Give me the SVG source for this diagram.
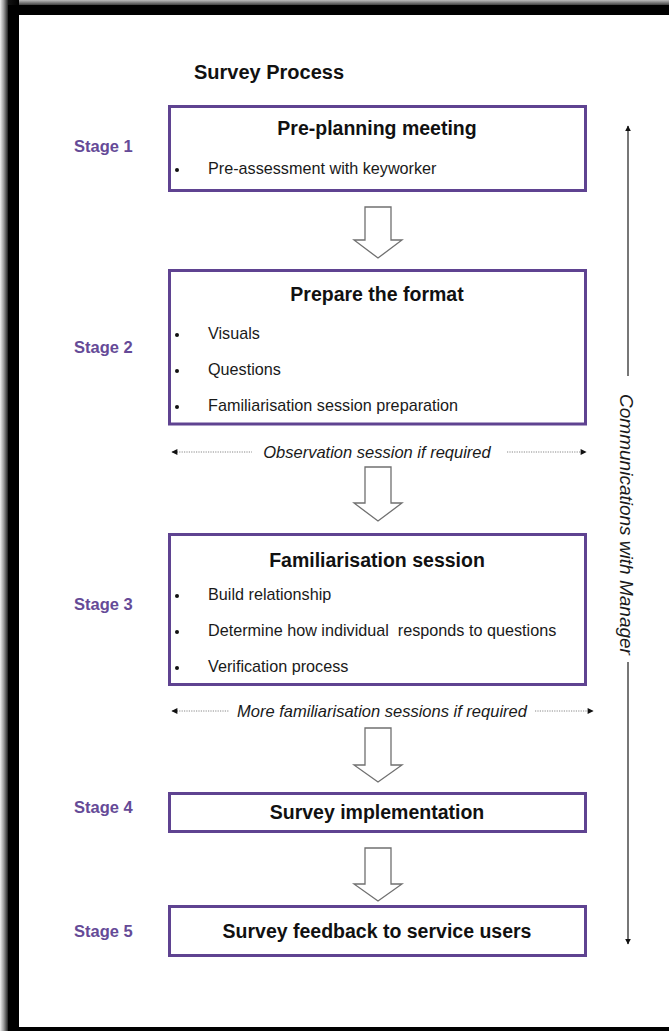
<svg xmlns="http://www.w3.org/2000/svg" width="669" height="1031" viewBox="0 0 669 1031">
<defs>
<style>
.box{fill:#fff;stroke:#5f4391;stroke-width:3}
.stage{font-family:"Liberation Sans",Arial,sans-serif;font-weight:bold;font-size:16.5px;fill:#654a97}
.ttl{font-family:"Liberation Sans",Arial,sans-serif;font-weight:bold;font-size:19.5px;fill:#111;text-anchor:middle}
.bl{font-family:"Liberation Sans",Arial,sans-serif;font-size:16.2px;fill:#1a1a1a}
.note{font-family:"Liberation Sans",Arial,sans-serif;font-style:italic;font-size:16.5px;fill:#1a1a1a}
.bul{fill:#111}
.blk{fill:#fff;stroke:#707070;stroke-width:1.3;stroke-linejoin:miter}
.dot{stroke:#888;stroke-width:1;stroke-dasharray:1.2 1.2;fill:none}
.vline{stroke:#555;stroke-width:1.6;fill:none}
</style>
<linearGradient id="gTop" x1="0" y1="0" x2="0" y2="1">
<stop offset="0" stop-color="#bdbdbd"/>
<stop offset="0.35" stop-color="#3a3a3a"/>
<stop offset="0.55" stop-color="#000"/>
<stop offset="1" stop-color="#000"/>
</linearGradient>
<linearGradient id="gLeft" x1="0" y1="0" x2="1" y2="0">
<stop offset="0" stop-color="#f0f0f0"/>
<stop offset="0.2" stop-color="#9a9a9a"/>
<stop offset="0.45" stop-color="#111"/>
<stop offset="1" stop-color="#000"/>
</linearGradient>
<marker id="ah" viewBox="0 0 10 10" refX="9" refY="5" markerWidth="6" markerHeight="6" markerUnits="userSpaceOnUse" orient="auto-start-reverse">
<path d="M0,0 L10,5 L0,10 Z" fill="#111"/>
</marker>
<marker id="sa" viewBox="0 0 10 10" refX="9" refY="5" markerWidth="7" markerHeight="6" markerUnits="userSpaceOnUse" orient="auto-start-reverse">
<path d="M0,0 L10,5 L0,10 Z" fill="#111"/>
</marker>
</defs>
<rect width="669" height="1031" fill="#fff"/>
<g id="frame">
<rect x="0" y="0" width="669" height="15" fill="url(#gTop)"/>
<rect x="0" y="0" width="19" height="1031" fill="url(#gLeft)"/>
<rect x="8" y="5" width="661" height="10" fill="#000"/>
<rect x="8" y="5" width="11" height="1026" fill="#000"/>
<rect x="8" y="1027" width="661" height="4" fill="#000"/>
</g>
<text id="title" x="269" y="79" class="ttl" style="font-size:20px">Survey Process</text>
<g id="stage1">
<text class="stage" x="74" y="152">Stage 1</text>
<rect class="box" x="169.5" y="106.5" width="416" height="84"/>
<text class="ttl" x="377" y="135">Pre-planning meeting</text>
<circle class="bul" cx="177" cy="170" r="2"/>
<text class="bl" x="208" y="174">Pre-assessment with keyworker</text>
</g>
<g id="stage2">
<text class="stage" x="74" y="353">Stage 2</text>
<rect class="box" x="169.5" y="270.5" width="416" height="153.5"/>
<text class="ttl" x="377" y="301">Prepare the format</text>
<circle class="bul" cx="177" cy="335" r="2"/>
<text class="bl" x="208" y="339">Visuals</text>
<circle class="bul" cx="177" cy="371" r="2"/>
<text class="bl" x="208" y="375">Questions</text>
<circle class="bul" cx="177" cy="407" r="2"/>
<text class="bl" x="208" y="411">Familiarisation session preparation</text>
</g>
<g id="stage3">
<text class="stage" x="74" y="610">Stage 3</text>
<rect class="box" x="169.5" y="534.5" width="416" height="150"/>
<text class="ttl" x="377" y="567">Familiarisation session</text>
<circle class="bul" cx="177" cy="596" r="2"/>
<text class="bl" x="208" y="600">Build relationship</text>
<circle class="bul" cx="177" cy="632" r="2"/>
<text class="bl" x="208" y="636" xml:space="preserve">Determine how individual  responds to questions</text>
<circle class="bul" cx="177" cy="668" r="2"/>
<text class="bl" x="208" y="672">Verification process</text>
</g>
<g id="stage4">
<text class="stage" x="74" y="813">Stage 4</text>
<rect class="box" x="169.5" y="793.5" width="416" height="38"/>
<text class="ttl" x="377" y="819">Survey implementation</text>
</g>
<g id="stage5">
<text class="stage" x="74" y="937">Stage 5</text>
<rect class="box" x="169.5" y="906.5" width="416" height="49"/>
<text class="ttl" x="377" y="938">Survey feedback to service users</text>
</g>
<g id="connectors">
<path class="blk" d="M365,207 H391 V240 H402 L378,258 L354,240 H365 Z"/>
<path class="blk" d="M365,467 H391 V503 H402 L378,521 L354,503 H365 Z"/>
<path class="blk" d="M365,728 H391 V765 H402 L378,782 L354,765 H365 Z"/>
<path class="blk" d="M365,848 H391 V884 H402 L378,901 L354,884 H365 Z"/>
<line class="dot" x1="172" y1="452" x2="252" y2="452" marker-start="url(#sa)"/>
<line class="dot" x1="507" y1="452" x2="586" y2="452" marker-end="url(#sa)"/>
<text class="note" x="377" y="458" text-anchor="middle">Observation session if required</text>
<line class="dot" x1="172" y1="711" x2="229" y2="711" marker-start="url(#sa)"/>
<line class="dot" x1="535" y1="711" x2="593" y2="711" marker-end="url(#sa)"/>
<text class="note" x="382" y="717" text-anchor="middle">More familiarisation sessions if required</text>
<line class="vline" x1="628" y1="376" x2="628" y2="126" marker-end="url(#ah)"/>
<line class="vline" x1="628" y1="662" x2="628" y2="944" marker-end="url(#ah)"/>
<text class="note" transform="translate(627,524.5) rotate(90)" text-anchor="middle" dy="0.35em" style="font-size:19px">Communications with Manager</text>
</g>
</svg>
